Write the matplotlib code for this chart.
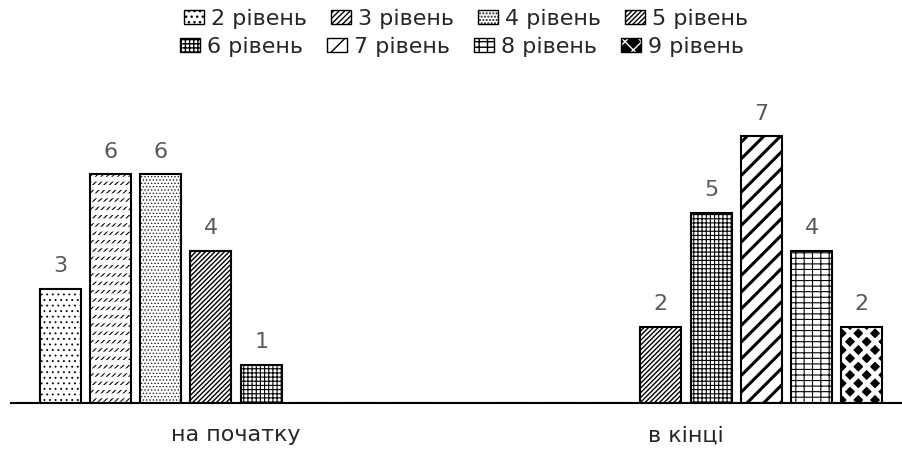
import numpy as np
import matplotlib.pyplot as plt
from matplotlib.patches import Patch

plt.rcParams['font.family'] = ['DejaVu Sans']

categories = ['на початку', 'в кінці']
levels = ['2 рівень', '3 рівень', '4 рівень', '5 рівень',
          '6 рівень', '7 рівень', '8 рівень', '9 рівень']
# values per level: [на початку, в кінці]
values = {
    '2 рівень': [3, 0],
    '3 рівень': [6, 0],
    '4 рівень': [6, 0],
    '5 рівень': [4, 2],
    '6 рівень': [1, 5],
    '7 рівень': [0, 7],
    '8 рівень': [0, 4],
    '9 рівень': [0, 2],
}

# fill styles: (face, hatch colour, hatch, hatch lw, extra overlay)
styles = {
    '2 рівень': ('white', 'black', '...', 0.6, None),
    '3 рівень': ('white', 'black', '//////', 0.8, ('white', '--', 3.5)),
    '4 рівень': ('white', '#222222', '.....', 0.6, None),
    '5 рівень': ('white', 'black', '///////', 1.0, None),
    '6 рівень': ('white', 'black', '++++', 0.8, None),
    '7 рівень': ('white', 'black', '//', 2.2, None),
    '8 рівень': ('white', 'black', '---||', 0.8, None),
    '9 рівень': ('black', 'white', 'xx', 3.3, None),
}

fig = plt.figure(figsize=(9.02, 4.49), dpi=100)
ax = fig.add_axes([11 / 902, 1 - 403 / 449, 891 / 902, 304.8 / 449])

x = np.arange(len(categories))
pitch = 50.25 / 450
width = 41 / 450


def hatched_bar(xs, hs, face, hcolor, hatch, hlw):
    with plt.rc_context({'hatch.linewidth': hlw}):
        bars = ax.bar(xs, hs, width, color=face, edgecolor=hcolor,
                      hatch=hatch, linewidth=0)
    for b in bars:
        if hasattr(b, 'set_hatch_linewidth'):
            b.set_hatch_linewidth(hlw)
    return bars


handles = []
for i, lev in enumerate(levels):
    vals = np.array(values[lev], dtype=float)
    xs = x + (i - 3.5) * pitch
    face, hcol, hatch, hlw, extra = styles[lev]
    hatched_bar(xs, vals, face, hcol, hatch, hlw)
    parts = [Patch(facecolor=face, edgecolor=hcol, hatch=hatch, linewidth=0)]
    if extra is not None:
        ecol, ehatch, elw = extra
        with plt.rc_context({'hatch.linewidth': elw}):
            eb = ax.bar(xs, vals, width, color='none', edgecolor=ecol,
                        hatch=ehatch, linewidth=0)
        for b in eb:
            if hasattr(b, 'set_hatch_linewidth'):
                b.set_hatch_linewidth(elw)
    outline = ax.bar(xs, vals, width, color='none', edgecolor='black',
                     linewidth=1.5)
    parts.append(Patch(facecolor='none', edgecolor='black', linewidth=1.0))
    handles.append(tuple(parts))
    labels = [f'{int(v)}' if v > 0 else '' for v in vals]
    ax.bar_label(outline, labels=labels, padding=9, fontsize=16,
                 color='#595959')

ax.set_xlim(-0.5, -0.5 + 891 / 450)
ax.set_ylim(0, 8)
ax.set_xticks(x)
ax.set_xticklabels(categories, fontsize=16, color='#262626')
ax.tick_params(axis='x', length=0, pad=16)
ax.set_yticks([])
for s in ['top', 'right', 'left']:
    ax.spines[s].set_visible(False)
ax.spines['bottom'].set_linewidth(1.5)
ax.spines['bottom'].set_color('black')

leg_kw = dict(ncol=4, frameon=False, fontsize=16, handlelength=0.9,
              handleheight=0.6, handletextpad=0.3, columnspacing=1.1,
              borderaxespad=0, labelcolor='#262626')
leg1 = fig.legend(handles[:4], levels[:4], loc='center',
                  bbox_to_anchor=(466 / 902, 1 - 19 / 449), **leg_kw)
leg2 = fig.legend(handles[4:], levels[4:], loc='center',
                  bbox_to_anchor=(462 / 902, 1 - 47 / 449), **leg_kw)

fig.savefig('out.png', dpi=100)
